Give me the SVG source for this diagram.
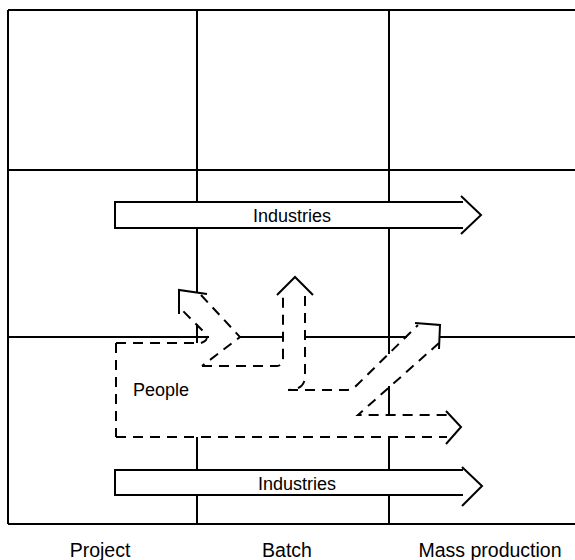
<svg xmlns="http://www.w3.org/2000/svg" width="575" height="560" viewBox="0 0 575 560">
<style>
.grid{stroke:#000;stroke-width:2;fill:none}
.solid{stroke:#000;stroke-width:2;fill:none;stroke-linejoin:miter}
.dash{stroke:#000;stroke-width:2;fill:none;stroke-dasharray:10 7}
text{font-family:"Liberation Sans",Arial,sans-serif;fill:#000}
.lbl{font-size:18px;text-anchor:middle}
.axis{font-size:19.5px;text-anchor:middle}
</style>
<rect width="575" height="560" fill="#fff"/>
<g id="grid">
<path class="grid" d="M8,10 H575 M8,10 V524 M8,524 H575 M8,170 H575"/>
<path class="grid" d="M8,337 H209 M240,337 H283 M305,337 H407 M440,337 H575"/>
<path class="grid" d="M197,10 V202 M197,228 V292 M197,324 V343 M197,437 V470 M197,495 V524"/>
<path class="grid" d="M389,10 V202 M389,228 V354 M389,386 V415 M389,437 V470 M389,495 V524"/>
</g>
<g id="industries-top">
<path class="solid" d="M463,202 H115 V228 H463"/>
<path class="solid" d="M461,196 L481,215 L461,234"/>
<text class="lbl" x="292" y="222">Industries</text>
</g>
<g id="industries-bottom">
<path class="solid" d="M463,470 H115 V495 H463"/>
<path class="solid" d="M462,467 L482,486 L462,506"/>
<text class="lbl" x="297" y="490">Industries</text>
</g>
<g id="people">
<text x="133" y="396" style="font-size:18px">People</text>
</g>
<g id="connectors">
<path class="dash" d="M116,343 H201"/>
<path class="dash" d="M116,343 V437"/>
<path class="dash" d="M116,437 H447"/>
<path class="dash" d="M201,343 Q211,340 204,332 L182,310"/>
<path class="dash" d="M201,295 L240,337 L202,366"/>
<path class="dash" d="M202,366 H276 Q283,366 283,358 V296"/>
<path class="dash" d="M305,296 V376 Q305,390 288,390"/>
<path class="dash" d="M288,390 H346 Q352,390 357,385 L418,325"/>
<path class="dash" d="M439,343 L358,415 H447"/>
<path class="solid" d="M207,294 L179,290 L179,314"/>
<path class="solid" d="M277,295 L295,277 L313,295"/>
<path class="solid" d="M415,323 L440,325 L439,349"/>
<path class="solid" d="M446,411 L461,427 L446,444"/>
</g>
<g id="axis-labels">
<text class="axis" x="100" y="557">Project</text>
<text class="axis" x="287" y="557">Batch</text>
<text class="axis" x="490" y="557">Mass production</text>
</g>
</svg>
